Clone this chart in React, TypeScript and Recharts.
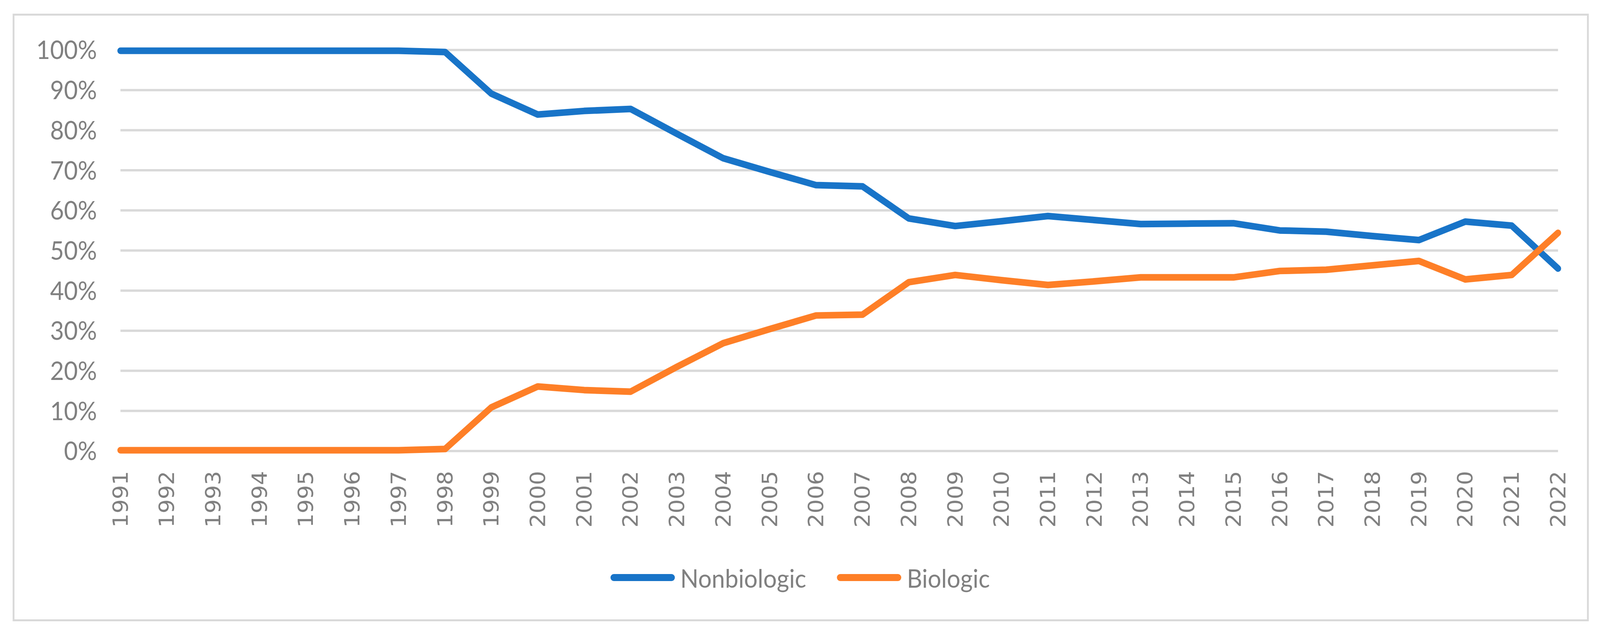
import React from 'react';
import {
	CartesianGrid,
	Legend,
	Line,
	LineChart,
	XAxis,
	YAxis,
} from 'recharts';

const years = [
	'1991', '1992', '1993', '1994', '1995', '1996', '1997', '1998',
	'1999', '2000', '2001', '2002', '2003', '2004', '2005', '2006',
	'2007', '2008', '2009', '2010', '2011', '2012', '2013', '2014',
	'2015', '2016', '2017', '2018', '2019', '2020', '2021', '2022',
];

const nonbiologic = [
	99.8, 99.8, 99.8, 99.8, 99.8, 99.8, 99.8, 99.5,
	89.1, 83.9, 84.8, 85.3, 79.1, 73.0, 69.6, 66.3,
	66.0, 58.0, 56.1, 57.3, 58.6, 57.6, 56.6, 56.7,
	56.8, 55.0, 54.7, 53.6, 52.6, 57.2, 56.2, 45.5,
];

const biologic = [
	0.2, 0.2, 0.2, 0.2, 0.2, 0.2, 0.2, 0.5,
	10.9, 16.1, 15.2, 14.8, 21.0, 26.9, 30.4, 33.8,
	34.0, 42.1, 43.9, 42.6, 41.4, 42.3, 43.3, 43.3,
	43.3, 44.9, 45.2, 46.3, 47.4, 42.8, 43.9, 54.4,
];

const yTicks = [0, 10, 20, 30, 40, 50, 60, 70, 80, 90, 100];

const series = [
	{ key: 'nonbiologic', name: 'Nonbiologic', color: '#1874c8' },
	{ key: 'biologic', name: 'Biologic', color: '#fe7f27' },
];

const data = years.map((year, i) => ({
	year,
	nonbiologic: nonbiologic[i],
	biologic: biologic[i],
}));

// layout is drawn at the reference size, then fitted to the window
const W = 4424;
const H = 1621;
const textGray = '#808080';
const lineWidth = 17;

const YearTick = (props: any) => {
	const { x, y, payload } = props;
	return (
		<g transform={`translate(${x},${y + 51}) rotate(-90)`}>
			<text
				textAnchor='end'
				dominantBaseline='central'
				fill={textGray}
				fontFamily='DejaVu Sans'
				fontSize={57}
			>
				{payload.value}
			</text>
		</g>
	);
};

const LegendContent = (props: any) => {
	const items = series
		.map((s) => (props.payload || []).find((p: any) => p.value === s.name))
		.filter(Boolean);
	return (
		<div
			style={{
				display: 'flex',
				justifyContent: 'center',
				alignItems: 'center',
				gap: 84,
				fontFamily: 'Lato',
				fontSize: 66,
				color: textGray,
				height: 80,
			}}
		>
			{items.map((item: any) => (
				<div key={item.value} style={{ display: 'flex', alignItems: 'center' }}>
					<svg width={180} height={24} style={{ marginRight: 14 }}>
						<line
							x1={10}
							y1={12}
							x2={170}
							y2={12}
							stroke={item.color}
							strokeWidth={18}
							strokeLinecap='round'
						/>
					</svg>
					<span>{item.value}</span>
				</div>
			))}
		</div>
	);
};

export default function App() {
	const vw = typeof window !== 'undefined' ? window.innerWidth : W;
	const vh = typeof window !== 'undefined' ? window.innerHeight : H;
	const sx = Math.min(1, vw / W);
	const sy = Math.min(1, vh / H);

	return (
		<div style={{ width: W * sx, height: H * sy, overflow: 'hidden', background: '#fff' }}>
			<style>{'body{margin:0;overflow:hidden}'}</style>
			<div
				style={{
					position: 'relative',
					width: W,
					height: H,
					background: '#fff',
					transform: `scale(${sx}, ${sy})`,
					transformOrigin: '0 0',
				}}
			>
				<div
					style={{
						position: 'absolute',
						left: 35,
						top: 35,
						width: 4358,
						height: 1556,
						border: '5px solid #d9d9d9',
						boxSizing: 'border-box',
					}}
				/>
				<LineChart
					width={W}
					height={H}
					data={data}
					margin={{ top: 128, right: 116, left: 253, bottom: 10 }}
					style={{ position: 'absolute', left: 0, top: 0 }}
				>
					<CartesianGrid vertical={false} stroke='#d9d9d9' strokeWidth={6} />
					<XAxis
						dataKey='year'
						interval={0}
						axisLine={false}
						tickLine={false}
						tickSize={0}
						tickMargin={0}
						height={456}
						tick={<YearTick />}
					/>
					<YAxis
						width={80}
						domain={[0, 100]}
						ticks={yTicks}
						axisLine={false}
						tickLine={false}
						tickSize={0}
						tickMargin={65}
						tickFormatter={(v: number) => `${v}%`}
						tick={{ fill: textGray, fontFamily: 'Lato', fontSize: 66 }}
					/>
					<Legend
						verticalAlign='middle'
						align='center'
						wrapperStyle={{ top: 1439, left: 0, width: W }}
						content={<LegendContent />}
					/>
					{series.map((s) => (
						<Line
							key={s.key}
							type='linear'
							dataKey={s.key}
							name={s.name}
							stroke={s.color}
							strokeWidth={lineWidth}
							strokeLinejoin='round'
							strokeLinecap='round'
							dot={false}
							activeDot={false}
							isAnimationActive={false}
						/>
					))}
				</LineChart>
			</div>
		</div>
	);
}
